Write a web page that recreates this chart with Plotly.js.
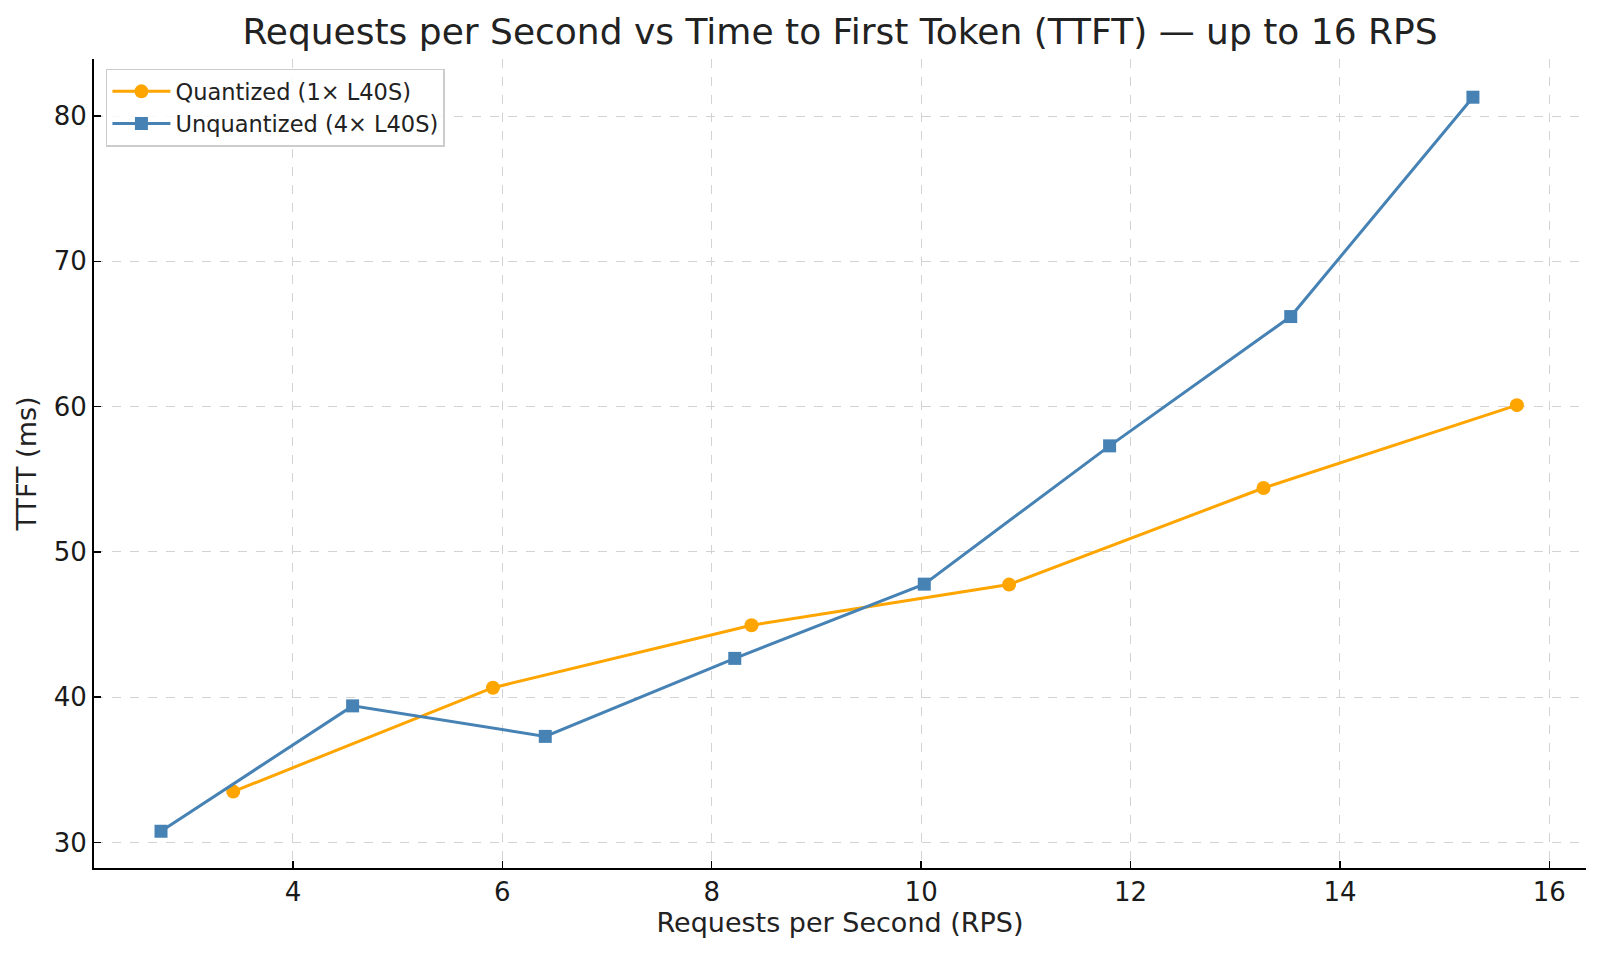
<!DOCTYPE html>
<html>
<head>
<meta charset="utf-8">
<script src="https://cdn.plot.ly/plotly-3.0.1.min.js"></script>
<style>html,body{margin:0;padding:0;background:#fff;}#chart{width:1600px;height:954px;}</style>
</head>
<body>
<div id="chart"></div>
<script>
const quantRps = [3.43, 5.91, 8.38, 10.84, 13.27, 15.69];
const quantTtft = [33.5, 40.65, 44.95, 47.75, 54.4, 60.1];
const unquantRps = [2.74, 4.57, 6.41, 8.22, 10.03, 11.80, 13.53, 15.27];
const unquantTtft = [30.77, 39.4, 37.3, 42.67, 47.78, 57.3, 66.2, 81.3];
const xTicks = [4, 6, 8, 10, 12, 14, 16];
const yTicks = [30, 40, 50, 60, 70, 80];

const font = "DejaVu Sans, sans-serif";
const traces = [
  {x: quantRps, y: quantTtft, name: "Quantized (1× L40S)", type: "scatter", mode: "lines+markers",
   line: {color: "#FFA500", width: 3}, marker: {symbol: "circle", size: 14, color: "#FFA500"}},
  {x: unquantRps, y: unquantTtft, name: "Unquantized (4× L40S)", type: "scatter", mode: "lines+markers",
   line: {color: "#4682B4", width: 3}, marker: {symbol: "square", size: 13, color: "#4682B4"}}
];
const axisCommon = {
  showline: true, linecolor: "#000", linewidth: 2, mirror: false,
  ticks: "inside", ticklen: 7, tickwidth: 1.5, tickcolor: "#000",
  showgrid: true, gridcolor: "#d3d3d3", griddash: "dash", gridwidth: 1,
  zeroline: false, tickfont: {family: font, size: 26, color: "#1a1a1a"}
};
const layout = {
  width: 1600, height: 954,
  margin: {l: 94, r: 14, t: 59, b: 86},
  paper_bgcolor: "#fff", plot_bgcolor: "#fff",
  title: {text: "Requests per Second vs Time to First Token (TTFT) — up to 16 RPS",
          font: {family: font, size: 36, color: "#222"}, xref: "paper", x: 0.5, xanchor: "center", y: 0.967, yanchor: "middle"},
  xaxis: Object.assign({}, axisCommon, {range: [2.10, 16.35], tickvals: xTicks,
          title: {text: "Requests per Second (RPS)", font: {family: font, size: 27, color: "#222"}, standoff: 7}}),
  yaxis: Object.assign({}, axisCommon, {range: [28.24, 83.93], tickvals: yTicks,
          title: {text: "TTFT (ms)", font: {family: font, size: 27, color: "#222"}, standoff: 9}}),
  legend: {x: 0.008, y: 0.988, xanchor: "left", yanchor: "top",
           bgcolor: "rgba(255,255,255,0.85)", bordercolor: "#cccccc", borderwidth: 1.5,
           font: {family: font, size: 22.5, color: "#222"}, tracegroupgap: 0, itemwidth: 58},
  showlegend: true
};
Plotly.newPlot("chart", traces, layout, {displayModeBar: false, staticPlot: true});
</script>
</body>
</html>
